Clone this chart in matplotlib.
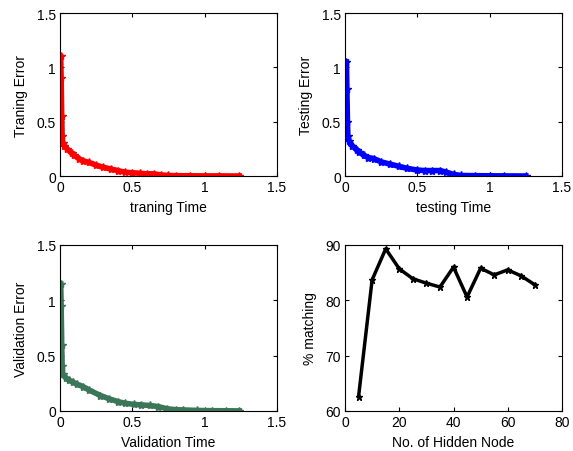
import numpy as np
import matplotlib.pyplot as plt

plt.rcParams['font.family'] = ['Liberation Sans', 'DejaVu Sans']
plt.rcParams['font.size'] = 10

# Training error curve (time, error)
train_time = [0.005, 0.008, 0.012, 0.015, 0.02, 0.03, 0.05, 0.08, 0.10, 0.13, 0.16,
              0.20, 0.25, 0.30, 0.35, 0.40, 0.45, 0.50, 0.55, 0.60, 0.65, 0.70,
              0.75, 0.80, 0.90, 1.00, 1.10, 1.24]
train_err = [1.10, 0.90, 0.55, 0.37, 0.30, 0.28, 0.25, 0.21, 0.19, 0.16, 0.14,
             0.125, 0.10, 0.08, 0.065, 0.05, 0.035, 0.03, 0.025, 0.02, 0.02, 0.01,
             0.005, 0.003, 0.002, 0.001, 0.001, 0.0]

# Testing error curve
test_time = [0.01, 0.013, 0.017, 0.02, 0.03, 0.05, 0.08, 0.10, 0.13, 0.16, 0.20,
             0.25, 0.31, 0.37, 0.43, 0.50, 0.55, 0.60, 0.66, 0.70, 0.75, 0.80,
             0.90, 1.00, 1.10, 1.25]
test_err = [1.05, 0.80, 0.50, 0.37, 0.32, 0.28, 0.24, 0.22, 0.19, 0.17, 0.16,
            0.13, 0.11, 0.09, 0.07, 0.055, 0.05, 0.05, 0.05, 0.035, 0.015, 0.005,
            0.003, 0.002, 0.001, 0.0]

# Validation error curve
val_time = [0.005, 0.008, 0.012, 0.015, 0.02, 0.04, 0.06, 0.09, 0.12, 0.16, 0.20,
            0.28, 0.34, 0.40, 0.45, 0.51, 0.56, 0.62, 0.68, 0.74, 0.80, 0.85,
            0.95, 1.05, 1.15, 1.24]
val_err = [1.15, 0.95, 0.60, 0.41, 0.33, 0.30, 0.28, 0.26, 0.24, 0.22, 0.19,
           0.14, 0.11, 0.085, 0.07, 0.06, 0.055, 0.05, 0.04, 0.02, 0.012, 0.01,
           0.005, 0.003, 0.002, 0.001]

# Matching vs hidden nodes
hidden_nodes = [5, 10, 15, 20, 25, 30, 35, 40, 45, 50, 55, 60, 65, 70]
matching = [62.6, 83.7, 89.3, 85.7, 83.9, 83.1, 82.4, 86.0, 80.6, 85.8, 84.6,
            85.5, 84.4, 82.8]

fig = plt.figure(figsize=(5.73, 4.52), dpi=100)

ax1 = fig.add_axes([0.1047, 0.6084, 0.3787, 0.3606])
ax2 = fig.add_axes([0.6021, 0.6084, 0.3787, 0.3606])
ax3 = fig.add_axes([0.1047, 0.0885, 0.3787, 0.3673])
ax4 = fig.add_axes([0.6021, 0.0885, 0.3787, 0.3673])

err_axes = [
    (ax1, train_time, train_err, 'red', 'traning Time', 'Traning Error'),
    (ax2, test_time, test_err, 'blue', 'testing Time', 'Testing Error'),
    (ax3, val_time, val_err, '#3b7658', 'Validation Time', 'Validation Error'),
]

for ax, t, e, c, xl, yl in err_axes:
    ax.plot(t, e, color=c, linewidth=4, marker='*', markersize=6)
    ax.set_xlim(0, 1.5)
    ax.set_ylim(0, 1.5)
    ax.set_xticks([0, 0.5, 1, 1.5])
    ax.set_yticks([0, 0.5, 1, 1.5])
    ax.set_xticklabels(['0', '0.5', '1', '1.5'])
    ax.set_yticklabels(['0', '0.5', '1', '1.5'])
    ax.set_xlabel(xl)
    ax.set_ylabel(yl, labelpad=6)

ax4.plot(hidden_nodes, matching, color='black', linewidth=2.5, marker='*', markersize=5)
ax4.set_xlim(0, 80)
ax4.set_ylim(60, 90)
ax4.set_xticks([0, 20, 40, 60, 80])
ax4.set_yticks([60, 70, 80, 90])
ax4.set_xlabel('No. of Hidden Node')
ax4.set_ylabel('% matching', labelpad=6)

for ax in [ax1, ax2, ax3, ax4]:
    ax.tick_params(direction='in', length=3, width=0.8, top=True, right=True, pad=3)
    for s in ax.spines.values():
        s.set_linewidth(0.8)

fig.savefig('out.png', dpi=100)
